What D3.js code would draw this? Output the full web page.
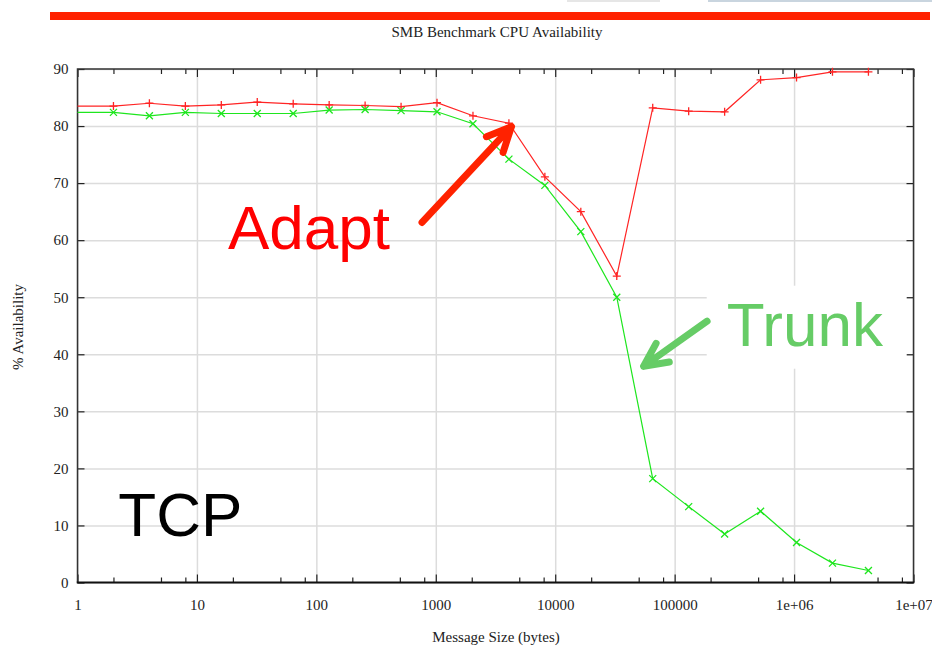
<!DOCTYPE html>
<html>
<head>
<meta charset="utf-8">
<script src="https://cdn.jsdelivr.net/npm/d3@7"></script>
<style>
body { margin: 0; background: #fff; }
svg { display: block; }
.lbl { font-family: "Liberation Serif", "Times New Roman", serif; font-size: 15px; fill: #222; }
</style>
</head>
<body>
<svg id="chart" width="932" height="649"></svg>
<script>
// message sizes (bytes)
var sizes = [1, 2, 4, 8, 16, 32, 64, 128, 256, 512, 1024, 2048, 4096, 8192,
  16384, 32768, 65536, 131072, 262144, 524288, 1048576, 2097152, 4194304];
// % availability
var adapt = [83.5, 83.5, 84.0, 83.5, 83.7, 84.2, 83.9, 83.7, 83.6, 83.4, 84.1, 81.8,
  80.5, 71.1, 65.0, 53.7, 83.2, 82.6, 82.5, 88.1, 88.5, 89.5, 89.5];
var trunk = [82.4, 82.4, 81.8, 82.4, 82.2, 82.2, 82.2, 82.8, 82.9, 82.7, 82.5, 80.4,
  74.2, 69.6, 61.5, 50.0, 18.2, 13.3, 8.5, 12.5, 7.0, 3.4, 2.1];

var xTicks = [1, 10, 100, 1000, 10000, 100000, 1000000, 10000000];
var xTickLabels = ["1", "10", "100", "1000", "10000", "100000", "1e+06", "1e+07"];
var xMinor = [2, 5, 8, 20, 50, 80, 200, 500, 800, 2000, 5000, 8000, 20000, 50000, 80000,
  200000, 500000, 800000, 2000000, 5000000, 8000000];
var yTicks = [0, 10, 20, 30, 40, 50, 60, 70, 80, 90];

var svg = d3.select("#chart");
var L = 77.5, R = 913.5, T = 69, B = 582.5;

var x = d3.scaleLog().domain([1, 1e7]).range([L, R]);
var y = d3.scaleLinear().domain([0, 90]).range([B, T]);

// little strips at the very top (slide chrome)
svg.append("rect").attr("x", 567).attr("y", 0).attr("width", 93).attr("height", 2).attr("fill", "#e6e6e6");
svg.append("rect").attr("x", 708).attr("y", 0).attr("width", 224).attr("height", 2).attr("fill", "#c9d5df");
// red slide bar
svg.append("rect").attr("x", 50).attr("y", 12).attr("width", 880).attr("height", 8).attr("fill", "#ff2200");

svg.append("text").attr("class", "lbl")
  .attr("x", 497).attr("y", 37).attr("text-anchor", "middle")
  .text("SMB Benchmark CPU Availability");

// grid
var grid = svg.append("g");
grid.append("g").attr("transform", "translate(0," + B + ")")
  .call(d3.axisBottom(x).tickValues(xTicks).tickSize(-(B - T)).tickFormat(""));
grid.append("g").attr("transform", "translate(" + L + ",0)")
  .call(d3.axisLeft(y).tickValues(yTicks).tickSize(-(R - L)).tickFormat(""));
grid.selectAll(".domain").remove();
grid.selectAll("line").attr("stroke", "#dcdcdc").attr("stroke-width", 1.5);

// axes (ticks point inward, on all four sides)
function styleAxis(g) {
  g.selectAll(".domain").remove();
  g.selectAll("line").attr("stroke", "#222").attr("stroke-width", 1.2);
  g.selectAll("text").attr("class", "lbl").attr("fill", null);
}
svg.append("g").attr("transform", "translate(0," + B + ")")
  .call(d3.axisBottom(x).tickValues(xTicks).tickSizeInner(-8).tickSizeOuter(0)
    .tickPadding(17).tickFormat(function(d, i) { return xTickLabels[i]; }))
  .call(styleAxis);
svg.append("g").attr("transform", "translate(0," + B + ")")
  .call(d3.axisBottom(x).tickValues(xMinor).tickSize(-5).tickFormat(""))
  .call(styleAxis);
svg.append("g").attr("transform", "translate(0," + T + ")")
  .call(d3.axisTop(x).tickValues(xTicks).tickSize(-8).tickFormat(""))
  .call(styleAxis);
svg.append("g").attr("transform", "translate(0," + T + ")")
  .call(d3.axisTop(x).tickValues(xMinor).tickSize(-5).tickFormat(""))
  .call(styleAxis);
svg.append("g").attr("transform", "translate(" + L + ",0)")
  .call(d3.axisLeft(y).tickValues(yTicks).tickSizeInner(-7).tickSizeOuter(0).tickPadding(9))
  .call(styleAxis);
svg.append("g").attr("transform", "translate(" + R + ",0)")
  .call(d3.axisRight(y).tickValues(yTicks).tickSize(-7).tickFormat(""))
  .call(styleAxis);

// frame
svg.append("path").attr("d", "M" + L + "," + B + "V" + T + "H" + R + "V" + B)
  .attr("fill", "none").attr("stroke", "#333").attr("stroke-width", 1.5);
svg.append("line").attr("x1", L - 0.75).attr("x2", R + 0.75).attr("y1", B).attr("y2", B)
  .attr("stroke", "#111").attr("stroke-width", 2.2);

svg.append("text").attr("class", "lbl")
  .attr("transform", "translate(23,327) rotate(-90)").attr("text-anchor", "middle")
  .text("% Availability");
svg.append("text").attr("class", "lbl")
  .attr("x", 496).attr("y", 642).attr("text-anchor", "middle")
  .text("Message Size (bytes)");

// series
var series = [
  { name: "Adapt", values: adapt, color: "#ff2424", mark: "M-4,0H4M0,-4V4" },
  { name: "Trunk", values: trunk, color: "#1ee61e", mark: "M-3.5,-3.5L3.5,3.5M-3.5,3.5L3.5,-3.5" }
];
var line = d3.line().x(function(d) { return x(d[0]); }).y(function(d) { return y(d[1]); });

series.forEach(function(s) {
  var pts = sizes.map(function(v, i) { return [v, s.values[i]]; });
  svg.append("path").datum(pts).attr("d", line)
    .attr("fill", "none").attr("stroke", s.color).attr("stroke-width", 1.2);
  svg.append("g").selectAll("path").data(pts.filter(function(d) { return d[0] > 1; }))
    .enter().append("path")
    .attr("transform", function(d) { return "translate(" + x(d[0]) + "," + y(d[1]) + ")"; })
    .attr("d", s.mark).attr("fill", "none").attr("stroke", s.color).attr("stroke-width", 1.3);
});

// annotations, anchored in data units
function arrow(tail, tip, color, width, head, spread) {
  var x0 = x(tail[0]), y0 = y(tail[1]), x1 = x(tip[0]), y1 = y(tip[1]);
  var a = Math.atan2(y0 - y1, x0 - x1);
  var s = spread * Math.PI / 180;
  var d = "M" + x0 + "," + y0 + "L" + x1 + "," + y1 +
    "M" + (x1 + head * Math.cos(a + s)) + "," + (y1 + head * Math.sin(a + s)) +
    "L" + x1 + "," + y1 +
    "L" + (x1 + head * Math.cos(a - s)) + "," + (y1 + head * Math.sin(a - s));
  svg.append("path").attr("d", d).attr("fill", "none").attr("stroke", color)
    .attr("stroke-width", width).attr("stroke-linecap", "round").attr("stroke-linejoin", "round");
}

var big = function(sel) {
  return sel.style("font-family", "'Liberation Sans', Arial, sans-serif").style("font-size", "62px");
};

// Trunk label sits on a white patch that hides the grid
var trunkText = big(svg.append("text")).attr("x", x(272900)).attr("y", y(41.5))
  .attr("fill", "#66cc66").text("Trunk");
var bb = trunkText.node().getBBox();
svg.insert("rect", function() { return trunkText.node(); })
  .attr("x", bb.x - 20).attr("y", bb.y - 4).attr("width", R - 7 - (bb.x - 20)).attr("height", bb.height + 14)
  .attr("fill", "#fff");

arrow([187000, 45.8], [55000, 37.9], "#66cc66", 7, 26, 26);
arrow([767, 63.1], [4300, 79.9], "#ff2200", 7, 27, 25);

big(svg.append("text")).attr("x", x(18.2)).attr("y", y(58.5)).attr("fill", "#ff0000").text("Adapt");
big(svg.append("text")).attr("x", x(2.196)).attr("y", y(8.13)).attr("fill", "#000").text("TCP");
</script>
</body>
</html>
